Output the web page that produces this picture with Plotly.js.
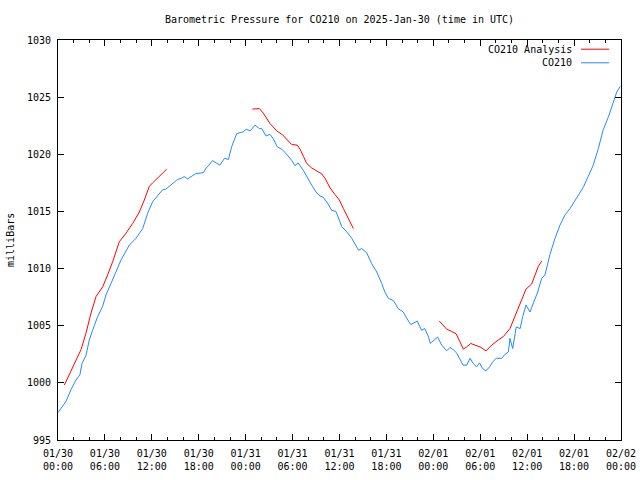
<!DOCTYPE html>
<html>
<head>
<meta charset="utf-8">
<script src="https://cdn.plot.ly/plotly-3.0.1.min.js"></script>
<style>html,body{margin:0;padding:0;background:#fff;}#chart{width:640px;height:480px;}</style>
</head>
<body>
<div id="chart"></div>
<script>
// Hours since 2025-01-30 00:00 UTC
const stationHours = [0.0,1.0,1.66,2.3,2.8,3.07,3.58,4.0,4.43,5.07,5.71,6.14,6.78,7.42,8.06,9.12,9.98,10.83,11.47,12.1,13.39,13.8,14.67,15.3,15.8,16.15,16.58,16.9,17.22,17.6,18.16,18.6,19.0,19.2,19.75,20.7,21.3,21.8,22.2,22.85,23.3,23.7,24.05,24.56,25.2,25.75,26.05,26.6,27.1,27.5,28.05,28.7,29.3,29.9,30.3,30.7,31.37,31.9,32.45,33.0,33.5,33.9,34.45,35.0,35.55,36.3,36.9,37.56,38.07,38.45,38.83,39.47,40.1,40.76,41.4,41.8,42.25,42.9,43.5,44.16,44.6,45.1,45.95,46.5,46.9,47.4,47.6,48.2,48.55,49.07,49.7,50.13,50.55,51.0,51.4,51.8,52.27,52.7,53.1,53.55,53.9,54.3,54.74,55.2,55.6,56.05,56.75,57.17,57.6,57.8,58.15,58.6,59.1,59.43,59.85,60.37,60.8,61.3,61.86,62.28,62.9,63.56,64.2,64.84,65.48,66.3,67.2,67.8,68.45,69.1,69.7,70.4,71.0,71.46,71.9];
const stationPressure = [997.4,998.35,999.4,1000.25,1000.7,1001.7,1002.4,1003.75,1004.6,1005.8,1006.7,1007.7,1008.7,1009.7,1010.75,1012.05,1012.65,1013.5,1014.85,1015.85,1016.9,1016.95,1017.45,1017.8,1017.9,1018.05,1017.85,1018.0,1018.1,1018.3,1018.35,1018.4,1018.85,1018.95,1019.45,1019.05,1019.65,1019.55,1020.65,1021.8,1021.9,1021.95,1022.2,1022.05,1022.55,1022.25,1022.25,1021.6,1021.75,1021.4,1020.65,1020.4,1019.95,1019.45,1019.0,1019.25,1018.6,1017.9,1017.3,1016.7,1016.35,1016.25,1015.75,1015.1,1015.0,1013.65,1013.25,1012.65,1012.05,1011.6,1011.75,1011.4,1010.45,1009.7,1008.7,1007.95,1007.4,1007.2,1006.5,1006.2,1005.65,1005.1,1005.4,1004.6,1004.75,1004.0,1003.45,1003.75,1004.0,1003.3,1002.8,1003.1,1002.9,1002.6,1002.0,1001.55,1001.55,1002.15,1001.7,1001.4,1001.75,1001.25,1001.05,1001.4,1001.85,1002.15,1002.15,1002.5,1002.7,1003.9,1003.0,1004.9,1004.75,1005.8,1006.8,1006.2,1007.0,1007.85,1009.15,1009.45,1011.2,1012.65,1013.8,1014.7,1015.25,1016.15,1017.15,1018.05,1019.05,1020.5,1022.1,1023.3,1024.45,1025.45,1025.95];

const analysisHours = [0.81,1.66,2.3,2.94,3.58,4.22,4.86,5.71,6.35,6.99,7.84,8.7,9.55,10.4,11.04,11.68,12.1,12.95,13.9,
  19.0,
  24.85,25.3,25.75,26.26,27.1,27.97,28.73,29.33,29.9,30.6,30.95,31.4,31.8,32.45,33.1,33.7,34.15,34.8,35.4,35.98,36.5,37.1,37.77,
  43.0,
  48.77,49.28,49.7,50.35,50.9,51.4,51.84,52.27,52.78,53.33,53.97,54.74,55.47,56.3,56.95,57.8,58.23,58.87,59.3,59.85,60.58,61.0,61.43,61.86];
const analysisPressure = [999.8,1001.1,1002.0,1002.9,1004.35,1006.1,1007.55,1008.4,1009.45,1010.6,1012.35,1013.1,1013.95,1014.95,1016.0,1017.2,1017.5,1018.05,1018.7,
  null,
  1023.95,1023.95,1024.0,1023.6,1022.7,1022.05,1021.7,1021.25,1020.85,1020.8,1020.45,1019.8,1019.2,1018.8,1018.5,1018.3,1017.9,1017.05,1016.5,1016.0,1015.25,1014.4,1013.5,
  null,
  1005.4,1005.05,1004.7,1004.5,1004.3,1003.6,1002.95,1003.15,1003.45,1003.3,1003.15,1002.8,1003.3,1003.75,1004.05,1004.75,1005.5,1006.65,1007.4,1008.2,1008.65,1009.45,1010.2,1010.65];

const xTickValues = [0,6,12,18,24,30,36,42,48,54,60,66,72];
const xTickLabels = ["01/30<br>00:00","01/30<br>06:00","01/30<br>12:00","01/30<br>18:00","01/31<br>00:00","01/31<br>06:00","01/31<br>12:00","01/31<br>18:00","02/01<br>00:00","02/01<br>06:00","02/01<br>12:00","02/01<br>18:00","02/02<br>00:00"];
const seriesNames = ["CO210 Analysis","CO210"];
const seriesColors = ["#ff0000","#1e8cff"];

const FONT = {family:"DejaVu Sans Mono, Liberation Mono, monospace", size:10, color:"#000"};

const traces = [
  {x: analysisHours, y: analysisPressure, type:'scatter', mode:'lines', name: seriesNames[0],
   line:{color: seriesColors[0], width:1}, connectgaps:false, showlegend:false, hoverinfo:'skip'},
  {x: stationHours, y: stationPressure, type:'scatter', mode:'lines', name: seriesNames[1],
   line:{color: seriesColors[1], width:1}, showlegend:false, hoverinfo:'skip'}
];

const legendY = [0.977, 0.943];
const annotations = [
  {text:"milliBars", xref:'paper', yref:'paper', x:-0.0853, y:0.5, textangle:-90,
   xanchor:'center', yanchor:'middle', showarrow:false, font:FONT}
];
const shapes = [];
seriesNames.forEach((nm,i)=>{
  annotations.push({text:nm, xref:'paper', yref:'paper', x:0.9165, y:legendY[i], xanchor:'right', yanchor:'middle',
    showarrow:false, font:FONT});
  shapes.push({type:'line', xref:'paper', yref:'paper', x0:0.929, x1:0.979, y0:legendY[i], y1:legendY[i],
    line:{color:seriesColors[i], width:1}});
});

const layout = {
  width:640, height:480,
  margin:{l:58, r:19, t:40, b:40, pad:0},
  paper_bgcolor:'#fff', plot_bgcolor:'#fff',
  font: FONT,
  showlegend:false,
  title:{text:"Barometric Pressure for CO210 on 2025-Jan-30 (time in UTC)", font:FONT,
    x:0.5, xref:'paper', xanchor:'center', y:1-19/480, yref:'container', yanchor:'middle'},
  xaxis:{range:[0,72], tickmode:'array', tickvals:xTickValues, ticktext:xTickLabels,
    ticks:'inside', ticklen:6, tickcolor:'#000', tickwidth:1, ticklabelstandoff:4,
    minor:{tickmode:'linear', tick0:0, dtick:2, ticks:'inside', ticklen:3, tickcolor:'#000', showgrid:false},
    showline:true, linecolor:'#000', linewidth:1, mirror:'ticks', showgrid:false, zeroline:false,
    tickfont:FONT, fixedrange:true},
  yaxis:{range:[995,1030], tickmode:'linear', tick0:995, dtick:5,
    ticks:'inside', ticklen:6, tickcolor:'#000', tickwidth:1, ticklabelstandoff:4,
    showline:true, linecolor:'#000', linewidth:1, mirror:'ticks', showgrid:false, zeroline:false,
    tickfont:FONT, fixedrange:true},
  annotations: annotations,
  shapes: shapes
};

Plotly.newPlot('chart', traces, layout, {staticPlot:true, displayModeBar:false});
</script>
</body>
</html>
